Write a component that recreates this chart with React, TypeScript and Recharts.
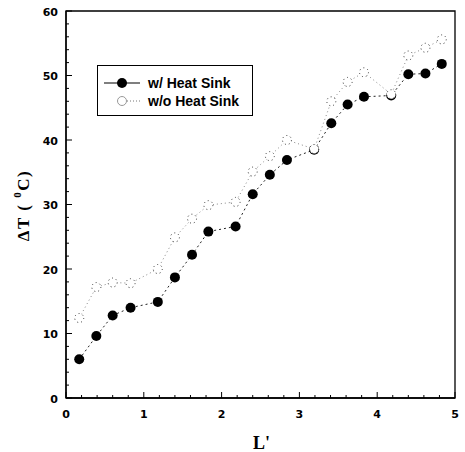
import React from 'react';
import { LineChart, Line, XAxis, YAxis, ReferenceArea, Legend } from 'recharts';

const lValues = [0.17, 0.39, 0.6, 0.83, 1.18, 1.4, 1.62, 1.83, 2.18, 2.4, 2.62, 2.84, 3.19, 3.41, 3.62, 3.83, 4.18, 4.4, 4.62, 4.83];
const withHeatSink = [6.0, 9.6, 12.8, 14.0, 14.9, 18.7, 22.2, 25.8, 26.6, 31.6, 34.6, 36.9, 38.5, 42.6, 45.5, 46.7, 46.9, 50.2, 50.3, 51.8];
const withoutHeatSink = [12.4, 17.2, 17.9, 17.8, 20.0, 24.9, 27.8, 29.9, 30.4, 35.1, 37.5, 40.0, 38.6, 46.0, 49.0, 50.5, 47.1, 53.1, 54.3, 55.6];

const xTicks = Array.from({ length: 26 }, (_, i) => Math.round(i * 2) / 10);
const yTicks = Array.from({ length: 31 }, (_, i) => i * 2);

const data = lValues.map((l, i) => ({ l, w: withHeatSink[i], wo: withoutHeatSink[i] }));

const tickFont = { fontFamily: '"DejaVu Sans", sans-serif', fontWeight: 'bold', fontSize: 11, fill: '#000' } as const;

const XTick = (props: any) => {
  const { x, y, payload } = props;
  const v = payload.value;
  const major = Math.abs(v - Math.round(v)) < 1e-6;
  return (
    <g>
      <line x1={x} x2={x} y1={y} y2={y - (major ? 6 : 3)} stroke="#000" strokeWidth={1} />
      {major && (
        <text x={x} y={y + 20} textAnchor="middle" {...tickFont}>
          {Math.round(v)}
        </text>
      )}
    </g>
  );
};

const YTick = (props: any) => {
  const { x, y, payload } = props;
  const v = payload.value;
  const major = v % 10 === 0;
  return (
    <g>
      <line x1={x} x2={x + (major ? 6 : 3)} y1={y} y2={y} stroke="#000" strokeWidth={1} />
      {major && (
        <text x={x - 8} y={y + 4.5} textAnchor="end" {...tickFont}>
          {v}
        </text>
      )}
    </g>
  );
};

const YLabel = (props: any) => {
  const vb = props.viewBox || { x: 0, y: 11, width: 66, height: 387 };
  const cx = vb.x + 23;
  const cy = vb.y + vb.height / 2 + 1;
  return (
    <text
      x={cx}
      y={cy}
      transform={`rotate(-90, ${cx}, ${cy})`}
      textAnchor="middle"
      dominantBaseline="central"
      fontFamily='"Liberation Serif", serif'
      fontWeight="bold"
      fontSize={17}
      letterSpacing={1.5}
      fill="#000"
    >
      {'\u0394T (  '}
      <tspan dy={-6} fontSize={11}>0</tspan>
      <tspan dy={6}>C)</tspan>
    </text>
  );
};

const XLabel = (props: any) => {
  const vb = props.viewBox || { x: 66, y: 398, width: 389, height: 54 };
  return (
    <text
      x={vb.x + vb.width / 2 + 1}
      y={vb.y + 51}
      textAnchor="middle"
      fontFamily='"Liberation Serif", serif'
      fontWeight="bold"
      fontSize={18}
      fill="#000"
    >
      L'
    </text>
  );
};

const LegendBox = (props: any) => {
  const payload = props.payload || [];
  const names = payload.length ? payload.map((p: any) => p.value) : ['w/ Heat Sink', 'w/o Heat Sink'];
  const rowStyle = (top: number): React.CSSProperties => ({
    position: 'absolute',
    left: 0,
    top,
    height: 18,
    width: '100%',
    lineHeight: '18px',
  });
  return (
    <div
      style={{
        width: 156,
        height: 51,
        border: '1px solid #000',
        boxSizing: 'border-box',
        position: 'relative',
        fontFamily: '"Liberation Sans", Arial, sans-serif',
        fontWeight: 'bold',
        fontSize: 14,
        color: '#000',
        background: '#fff',
      }}
    >
      <div style={rowStyle(8)}>
        <svg width={44} height={18} style={{ position: 'absolute', left: 4, top: 0 }}>
          <line x1={2} x2={40} y1={9} y2={9} stroke="#000" strokeWidth={1.2} strokeDasharray="14 2 20 3" />
          <circle cx={20} cy={9} r={5} fill="#000" />
        </svg>
        <span style={{ position: 'absolute', left: 50, top: 0 }}>{names[0]}</span>
      </div>
      <div style={rowStyle(26)}>
        <svg width={44} height={18} style={{ position: 'absolute', left: 4, top: 0 }}>
          <line x1={25} x2={38} y1={9} y2={9} stroke="#777" strokeWidth={1} strokeDasharray="1 2" />
          <circle cx={20} cy={9} r={4.5} fill="#fff" stroke="#999" strokeWidth={1} />
        </svg>
        <span style={{ position: 'absolute', left: 50, top: 0 }}>{names[1]}</span>
      </div>
    </div>
  );
};

export default function App() {
  return (
    <div style={{ position: 'absolute', left: 0, top: 0, width: 465, height: 452, background: '#fff' }}>
      <LineChart width={465} height={452} data={data} margin={{ top: 11, right: 10, left: 0, bottom: 0 }}>
        <XAxis
          dataKey="l"
          type="number"
          domain={[0, 5]}
          ticks={xTicks}
          interval={0}
          tickSize={0}
          tickMargin={0}
          tick={<XTick />}
          tickLine={false}
          axisLine={{ stroke: '#000', strokeWidth: 1.3 }}
          height={54}
          label={<XLabel />}
          allowDataOverflow
        />
        <YAxis
          type="number"
          domain={[0, 60]}
          ticks={yTicks}
          interval={0}
          tickSize={0}
          tickMargin={0}
          tick={<YTick />}
          tickLine={false}
          axisLine={{ stroke: '#000', strokeWidth: 1.3 }}
          width={66}
          label={<YLabel />}
          allowDataOverflow
        />
        <ReferenceArea x1={0} x2={5} y1={0} y2={60} fill="none" stroke="#000" strokeWidth={1.3} />
        <Legend
          layout="horizontal"
          verticalAlign="middle"
          align="center"
          content={<LegendBox />}
          wrapperStyle={{ position: 'absolute', left: 97, top: 65, width: 156, height: 51 }}
        />
        <Line
          name="w/ Heat Sink"
          dataKey="w"
          stroke="#222"
          strokeWidth={1}
          strokeDasharray="2 3"
          dot={{ r: 5, fill: '#000', stroke: '#000', strokeWidth: 0 }}
          activeDot={false}
          isAnimationActive={false}
        />
        <Line
          name="w/o Heat Sink"
          dataKey="wo"
          stroke="#888"
          strokeWidth={1}
          strokeDasharray="1 3"
          dot={{ r: 4.5, fill: '#fff', stroke: '#333', strokeWidth: 1 }}
          activeDot={false}
          isAnimationActive={false}
        />
      </LineChart>
    </div>
  );
}
